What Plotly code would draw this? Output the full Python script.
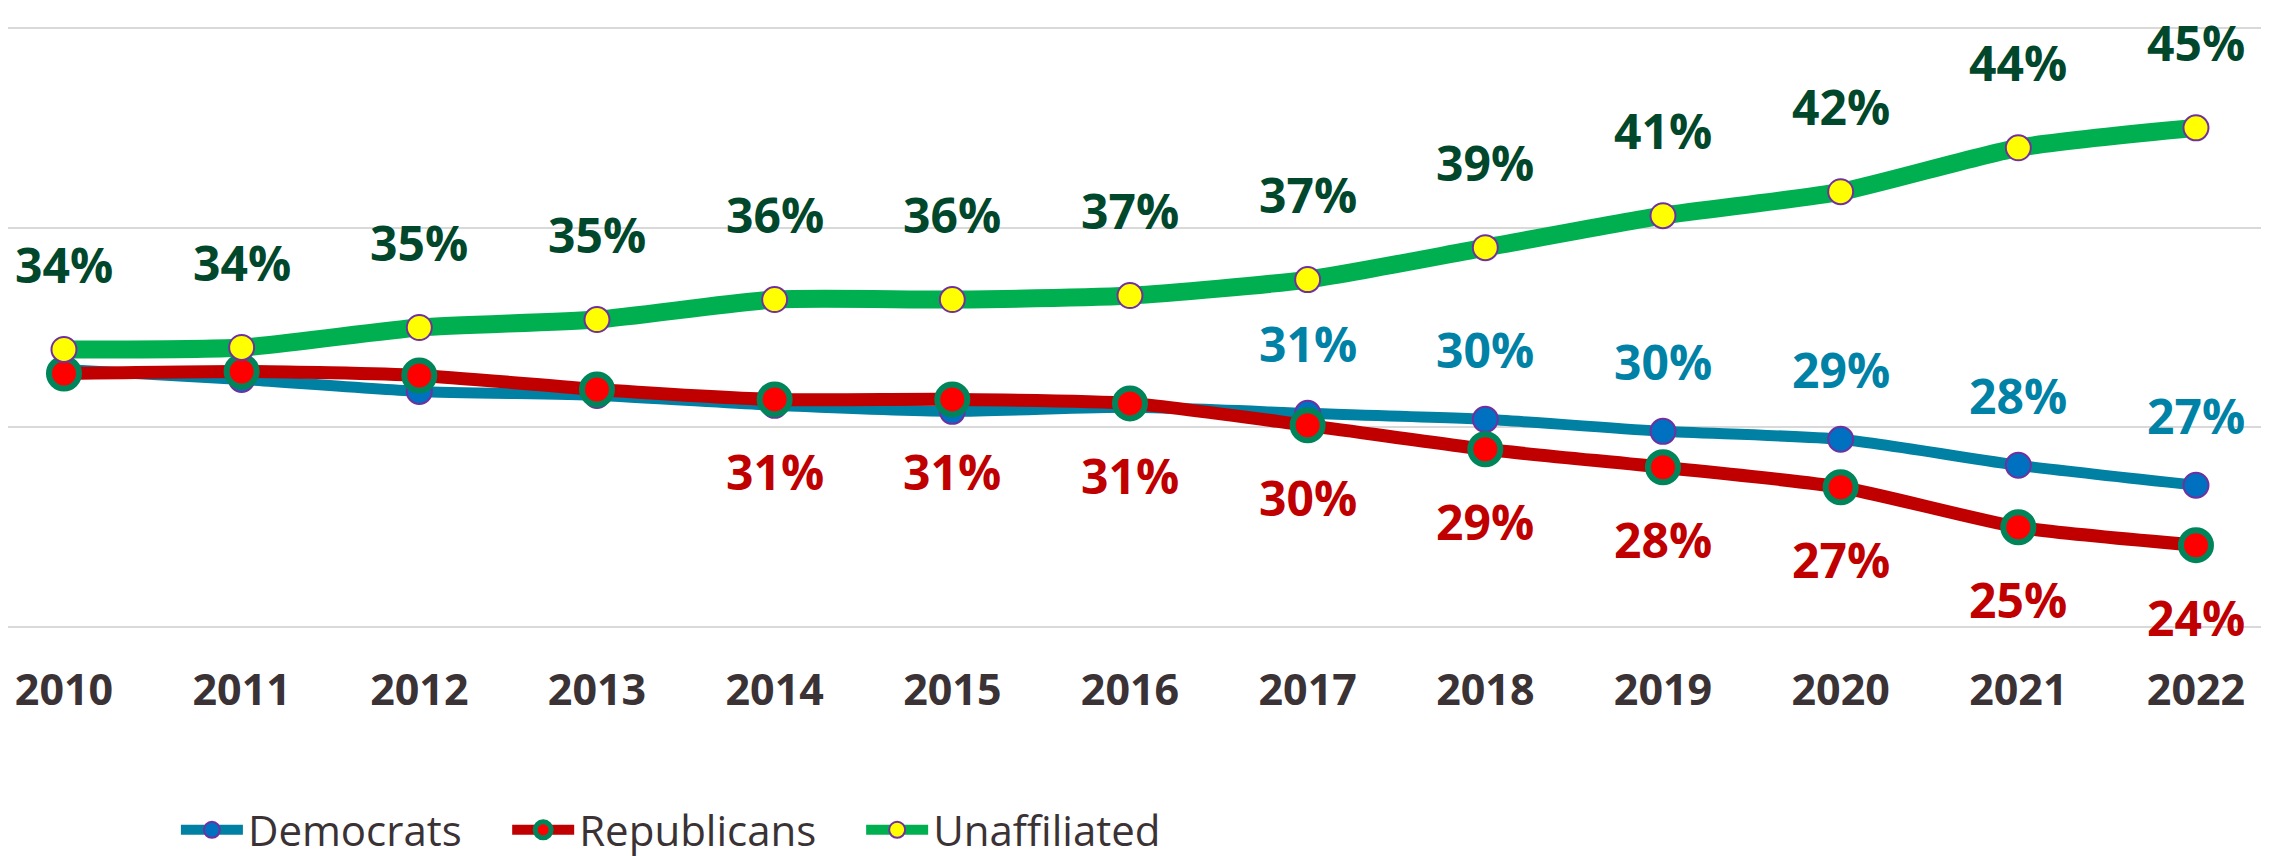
import plotly.graph_objects as go

years = [2010, 2011, 2012, 2013, 2014, 2015, 2016, 2017, 2018, 2019, 2020, 2021, 2022]
democrats = [32.9, 32.4, 31.8, 31.6, 31.1, 30.8, 31.0, 30.7, 30.4, 29.8, 29.4, 28.1, 27.1]
republicans = [32.7, 32.8, 32.6, 31.9, 31.4, 31.4, 31.2, 30.1, 28.9, 28.0, 27.0, 25.0, 24.1]
unaffiliated = [33.9, 34.0, 35.0, 35.4, 36.4, 36.4, 36.6, 37.4, 39.0, 40.6, 41.8, 44.0, 45.0]
dem_label_from = 2017
rep_label_from = 2014

FONT = "Open Sans"

fig = go.Figure()

fig.add_trace(go.Scatter(
    x=years, y=democrats, name="Democrats", mode="lines+markers", legend="legend",
    line=dict(color="#0080A3", width=11, shape="spline", smoothing=0.6),
    marker=dict(size=25, color="#0070C0", line=dict(color="#7030A0", width=2)),
))
fig.add_trace(go.Scatter(
    x=years, y=republicans, name="Republicans", mode="lines+markers", legend="legend2",
    line=dict(color="#C00000", width=13, shape="spline", smoothing=0.6),
    marker=dict(size=30, color="#FF0000", line=dict(color="#00855A", width=6)),
))
fig.add_trace(go.Scatter(
    x=years, y=unaffiliated, name="Unaffiliated", mode="lines+markers", legend="legend3",
    line=dict(color="#00B050", width=18, shape="spline", smoothing=0.6),
    marker=dict(size=25, color="#FFFF00", line=dict(color="#7030A0", width=2)),
))

annotations = []
for x, v in zip(years, unaffiliated):
    annotations.append(dict(x=x, y=v, text=f"{round(v)}%", showarrow=False, yshift=85,
                            font=dict(family=FONT, size=48, color="#00472B", weight="bold")))
for x, v in zip(years, democrats):
    if x >= dem_label_from:
        annotations.append(dict(x=x, y=v, text=f"{round(v)}%", showarrow=False, yshift=70,
                                font=dict(family=FONT, size=48, color="#0082A6", weight="bold")))
for x, v in zip(years, republicans):
    if x >= rep_label_from:
        annotations.append(dict(x=x, y=v, text=f"{round(v)}%", showarrow=False, yshift=-72,
                                font=dict(family=FONT, size=48, color="#C00000", weight="bold")))

leg_common = dict(orientation="h", xanchor="left", y=-0.328, yanchor="middle",
                  font=dict(family=FONT, size=42, color="#3A3235"),
                  itemwidth=62, bgcolor="rgba(0,0,0,0)")

fig.update_layout(
    width=2269, height=856,
    margin=dict(l=0, r=0, t=16, b=220),
    paper_bgcolor="white", plot_bgcolor="white",
    showlegend=True,
    legend=dict(x=0.074, **leg_common),
    legend2=dict(x=0.220, **leg_common),
    legend3=dict(x=0.376, **leg_common),
    annotations=annotations,
)
fig.update_xaxes(range=[2009.685, 2022.456], tickmode="array", tickvals=years,
                 ticktext=[str(y) for y in years], showgrid=False, zeroline=False,
                 showline=False, ticks="", ticklabelstandoff=30,
                 tickfont=dict(family=FONT, size=43, color="#3A3235", weight="bold"))
fig.update_yaxes(range=[19.8, 50.2], tickmode="array", tickvals=[20, 30, 40, 50],
                 showticklabels=False, showgrid=True, gridcolor="#D9D9D9", gridwidth=2,
                 zeroline=False, showline=False)

fig.write_html("out.html")
